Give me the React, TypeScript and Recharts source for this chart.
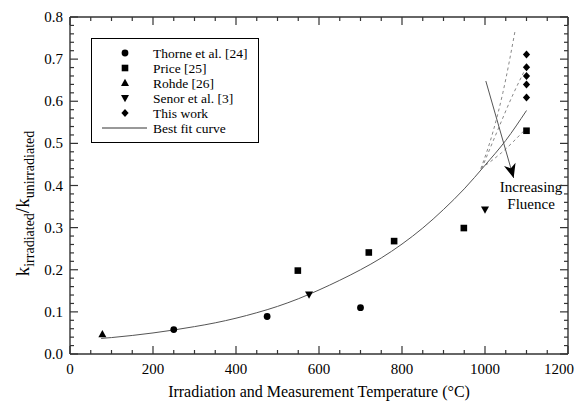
import React from 'react';
import * as R from 'recharts';
import { ComposedChart, Scatter, Line, XAxis, YAxis, ReferenceDot } from 'recharts';

const SERIF = '"Liberation Serif", "DejaVu Serif", serif';
const INK = '#333';

/* ── Measured points ─────────────────────────────────────── */
const thorne = [
  { x: 250, y: 0.058 },
  { x: 475, y: 0.089 },
  { x: 700, y: 0.110 },
];
const price = [
  { x: 549, y: 0.198 },
  { x: 720, y: 0.241 },
  { x: 781, y: 0.268 },
  { x: 949, y: 0.299 },
  { x: 1100, y: 0.530 },
];
const rohde = [{ x: 78, y: 0.047 }];
const senor = [
  { x: 576, y: 0.141 },
  { x: 1000, y: 0.343 },
];
const thisWork = [
  { x: 1100, y: 0.711 },
  { x: 1100, y: 0.681 },
  { x: 1100, y: 0.660 },
  { x: 1100, y: 0.640 },
  { x: 1100, y: 0.609 },
];

/* ── Curves ──────────────────────────────────────────────── */
const bestFit = [
  { x: 75, y: 0.037 }, { x: 100, y: 0.039 }, { x: 150, y: 0.044 },
  { x: 200, y: 0.050 }, { x: 250, y: 0.057 }, { x: 300, y: 0.065 },
  { x: 350, y: 0.074 }, { x: 400, y: 0.085 }, { x: 450, y: 0.098 },
  { x: 500, y: 0.113 }, { x: 550, y: 0.131 }, { x: 600, y: 0.152 },
  { x: 650, y: 0.175 }, { x: 700, y: 0.200 }, { x: 750, y: 0.228 },
  { x: 800, y: 0.261 }, { x: 850, y: 0.299 }, { x: 900, y: 0.343 },
  { x: 950, y: 0.392 }, { x: 1000, y: 0.448 }, { x: 1050, y: 0.507 },
  { x: 1100, y: 0.578 },
];
const fluenceA = [
  { x: 990, y: 0.440 }, { x: 1020, y: 0.530 }, { x: 1043, y: 0.620 }, { x: 1073, y: 0.770 },
];
const fluenceB = [
  { x: 992, y: 0.440 }, { x: 1030, y: 0.530 }, { x: 1067, y: 0.615 }, { x: 1097, y: 0.676 },
];
const fluenceC = [
  { x: 990, y: 0.440 }, { x: 1040, y: 0.478 }, { x: 1094, y: 0.530 },
];
const arrow = [
  { x: 1002, y: 0.648 },
  { x: 1069, y: 0.418 },
];

/* ── Axis ticks (labelled + minor) ───────────────────────── */
const xTicks = [0, 200, 400, 600, 800, 1000, 1200];
const yTicks = [0, 0.1, 0.2, 0.3, 0.4, 0.5, 0.6, 0.7, 0.8];
const xAllTicks = Array.from({ length: 25 }, (_, i) => i * 50);
const yAllTicks = Array.from({ length: 41 }, (_, i) => Math.round(i * 2) / 100);

const isMajorX = (v: number) => xTicks.includes(v);
const isMajorY = (v: number) => yTicks.some(t => Math.abs(t - v) < 1e-6);

/* ── Chart box ───────────────────────────────────────────── */
const W = 578, H = 402;
const MARGIN = { top: 17, right: 10, bottom: 0, left: 8 };
// plot-area hook when the library has it, else the box implied by the margins
const usePlot: () => any = (R as any).usePlotArea || (() => null);
function usePlotEdges() {
  const a = usePlot();
  return {
    top: a ? a.y : MARGIN.top,
    right: a ? a.x + a.width : W - MARGIN.right,
  };
}

/* ── Tick renderers: inward tick marks on all four sides ─── */
const labelStyle = { fontSize: 15, fontFamily: SERIF, fill: '#000' };

function BottomTick({ x, y, payload }: any) {
  const { top, right } = usePlotEdges();
  const v = payload.value;
  const major = isMajorX(v);
  const len = major ? 8 : 4;
  const last = v === 1200;
  return (
    <g>
      <path d={`M${x},${y}V${y - len}`} stroke={INK} strokeWidth={1.2} fill="none" />
      <path d={`M${x},${top}V${top + len}`} stroke={INK} strokeWidth={1.2} fill="none" />
      {v === 0 && <path d={`M${x},${top}H${right}`} stroke={INK} strokeWidth={1.4} fill="none" />}
      {major && (
        <text x={last ? x + 6 : x} y={y + 20} textAnchor={last ? 'end' : 'middle'} style={labelStyle}>{v}</text>
      )}
    </g>
  );
}

function LeftTick({ x, y, payload }: any) {
  const { top, right } = usePlotEdges();
  const v = payload.value;
  const major = isMajorY(v);
  const len = major ? 8 : 4;
  return (
    <g>
      <path d={`M${x},${y}H${x + len}`} stroke={INK} strokeWidth={1.2} fill="none" />
      <path d={`M${right},${y}H${right - len}`} stroke={INK} strokeWidth={1.2} fill="none" />
      {v === 0 && <path d={`M${right},${y}V${top}`} stroke={INK} strokeWidth={1.4} fill="none" />}
      {major && <text x={x - 7} y={y + 5} textAnchor="end" style={labelStyle}>{v.toFixed(1)}</text>}
    </g>
  );
}

/* ── Marker shapes ───────────────────────────────────────── */
const Dotc = ({ cx, cy }: any) => <circle cx={cx} cy={cy} r={3.4} fill="#000" />;
const Sq = ({ cx, cy }: any) => <rect x={cx - 3.3} y={cy - 3.3} width={6.6} height={6.6} fill="#000" />;
const TriUp = ({ cx, cy }: any) => (
  <path d={`M${cx},${cy - 4.2} L${cx + 4},${cy + 3} L${cx - 4},${cy + 3} Z`} fill="#000" />
);
const TriDown = ({ cx, cy }: any) => (
  <path d={`M${cx},${cy + 4.2} L${cx + 4},${cy - 3} L${cx - 4},${cy - 3} Z`} fill="#000" />
);
const Diamond = ({ cx, cy }: any) => (
  <path d={`M${cx},${cy - 4} L${cx + 3.6},${cy} L${cx},${cy + 4} L${cx - 3.6},${cy} Z`} fill="#000" />
);

// arrowhead drawn at the last point of the arrow line, pointing along the segment
function ArrowDot(p: any) {
  if (p.index !== arrow.length - 1) return <g />;
  let ang = 74;
  const pts = p.points;
  if (pts && pts.length > 1) {
    const a = pts[pts.length - 2];
    ang = (Math.atan2(p.cy - a.y, p.cx - a.x) * 180) / Math.PI;
  }
  return (
    <path transform={`translate(${p.cx},${p.cy}) rotate(${ang})`}
      d="M0,0 L-14,-6 L-10,0 L-14,6 Z" fill="#000" />
  );
}

/* ── Labels ──────────────────────────────────────────────── */
function XTitle({ viewBox }: any) {
  const { x, y, width, height } = viewBox;
  return (
    <text x={x + width / 2} y={y + height - 5} textAnchor="middle"
      style={{ fontSize: 16, fontFamily: SERIF, fill: '#000' }}>
      Irradiation and Measurement Temperature (°C)
    </text>
  );
}

function YTitle({ viewBox }: any) {
  const cx = 29;
  const cy = viewBox.y + viewBox.height / 2 + 18;
  return (
    <text x={cx} y={cy} textAnchor="middle" transform={`rotate(-90, ${cx}, ${cy})`}
      style={{ fontSize: 19, fontFamily: SERIF, fill: '#000' }}>
      k<tspan dy={5} fontSize={14}>irradiated</tspan>
      <tspan dy={-5}>/k</tspan>
      <tspan dy={5} fontSize={14}>unirradiated</tspan>
    </text>
  );
}

function FluenceLabel({ viewBox }: any) {
  const cx = viewBox.x + viewBox.width / 2;
  const cy = viewBox.y + viewBox.height / 2;
  return (
    <text x={cx} y={cy} textAnchor="middle" style={{ fontSize: 15, fontFamily: SERIF, fill: '#000' }}>
      <tspan x={cx} dy={5}>Increasing</tspan>
      <tspan x={cx} dy={17}>Fluence</tspan>
    </text>
  );
}

/* ── Legend box ──────────────────────────────────────────── */
const legendRows = [
  { name: 'Thorne et al. [24]', Shape: Dotc },
  { name: 'Price [25]', Shape: Sq },
  { name: 'Rohde [26]', Shape: TriUp },
  { name: 'Senor et al. [3]', Shape: TriDown },
  { name: 'This work', Shape: Diamond },
];

function LegendBox() {
  return (
    <svg width={169} height={106} style={{ position: 'absolute', left: 91, top: 38 }}>
      <rect x={0.5} y={0.5} width={167} height={104} fill="#fff" stroke="#000" strokeWidth={1} />
      {legendRows.map((r, i) => (
        <g key={r.name}>
          <r.Shape cx={34} cy={15 + i * 15} />
          <text x={62} y={15 + i * 15 + 4.5} style={{ fontSize: 13.5, fontFamily: SERIF, fill: '#000' }}>{r.name}</text>
        </g>
      ))}
      <line x1={11} x2={56} y1={90} y2={90} stroke="#333" strokeWidth={1} />
      <text x={62} y={94.5} style={{ fontSize: 13.5, fontFamily: SERIF, fill: '#000' }}>Best fit curve</text>
    </svg>
  );
}

/* ── Chart ───────────────────────────────────────────────── */
export default function App() {
  const axisLine = { stroke: INK, strokeWidth: 1.4 };

  return (
    <div style={{ position: 'absolute', left: 0, top: 0, width: W, height: H, background: '#fff' }}>
      <ComposedChart width={W} height={H} margin={MARGIN}>
        <XAxis type="number" dataKey="x" domain={[0, 1200]} ticks={xAllTicks} interval={0}
          height={48} stroke={INK} axisLine={axisLine} tickLine={false} tickSize={0} tickMargin={0}
          tick={<BottomTick />} label={<XTitle />} />
        <YAxis type="number" dataKey="y" domain={[0, 0.8]} ticks={yAllTicks} interval={0}
          width={62} stroke={INK} axisLine={axisLine} tickLine={false} tickSize={0} tickMargin={0}
          tick={<LeftTick />} label={<YTitle />} />

        <Line data={bestFit} dataKey="y" type="monotone" stroke="#555" strokeWidth={1} dot={false} isAnimationActive={false} />
        <Line data={fluenceA} dataKey="y" type="monotone" stroke="#888" strokeWidth={1} strokeDasharray="3 3" dot={false} isAnimationActive={false} />
        <Line data={fluenceB} dataKey="y" type="monotone" stroke="#888" strokeWidth={1} strokeDasharray="3 3" dot={false} isAnimationActive={false} />
        <Line data={fluenceC} dataKey="y" type="monotone" stroke="#888" strokeWidth={1} strokeDasharray="3 3" dot={false} isAnimationActive={false} />
        <Line data={arrow} dataKey="y" type="linear" stroke="#555" strokeWidth={1}
          dot={(p: any) => <ArrowDot {...p} key={`ad${p.index}`} />} isAnimationActive={false} />

        <Scatter data={thorne} dataKey="y" shape={(p: any) => <Dotc {...p} />} isAnimationActive={false} />
        <Scatter data={price} dataKey="y" shape={(p: any) => <Sq {...p} />} isAnimationActive={false} />
        <Scatter data={rohde} dataKey="y" shape={(p: any) => <TriUp {...p} />} isAnimationActive={false} />
        <Scatter data={senor} dataKey="y" shape={(p: any) => <TriDown {...p} />} isAnimationActive={false} />
        <Scatter data={thisWork} dataKey="y" shape={(p: any) => <Diamond {...p} />} isAnimationActive={false} />

        <ReferenceDot x={1111} y={0.397} r={0} fill="none" stroke="none" label={<FluenceLabel />} />
      </ComposedChart>
      <LegendBox />
    </div>
  );
}
